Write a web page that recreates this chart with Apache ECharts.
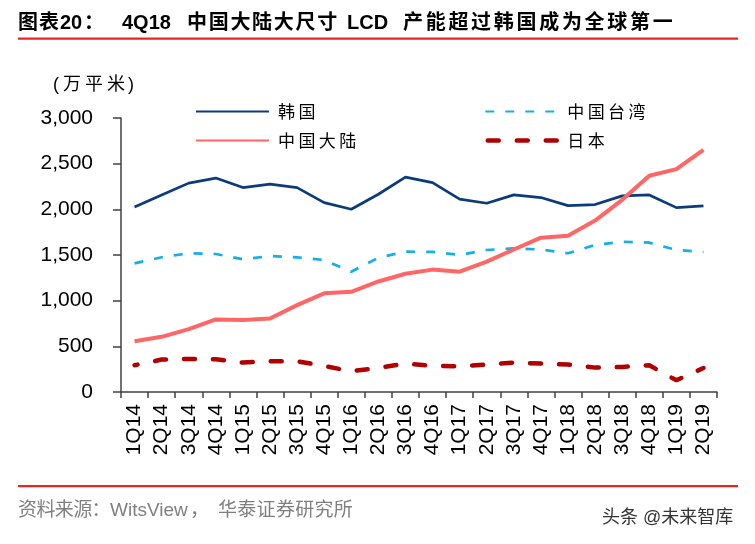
<!DOCTYPE html>
<html><head><meta charset="utf-8">
<script src="https://cdn.jsdelivr.net/npm/echarts@6/dist/echarts.min.js"></script>
<style>html,body{margin:0;padding:0;background:#fff}#c{width:755px;height:544px}</style>
</head><body><div id="c"></div>
<script>
var categories = ['1Q14','2Q14','3Q14','4Q14','1Q15','2Q15','3Q15','4Q15','1Q16','2Q16','3Q16','4Q16','1Q17','2Q17','3Q17','4Q17','1Q18','2Q18','3Q18','4Q18','1Q19','2Q19'];
var korea    = [2025,2158,2287,2342,2238,2276,2238,2074,2001,2165,2352,2293,2111,2067,2158,2129,2041,2052,2147,2158,2019,2037];
var taiwan   = [1409,1475,1519,1511,1453,1489,1475,1445,1317,1470,1536,1535,1500,1555,1573,1560,1519,1610,1646,1635,1555,1533];
var mainland = [556,604,688,794,787,805,951,1080,1097,1210,1295,1340,1317,1427,1560,1690,1710,1877,2104,2367,2440,2652];
var japan    = [293,355,362,359,322,337,337,285,227,265,311,285,282,300,322,311,300,267,274,293,128,263];
var yTicks = [0,500,1000,1500,2000,2500,3000];

var FONT = '"Liberation Sans", "Noto Sans CJK SC", sans-serif';
function spaced(str, x, y, pitch, font, fill) {
  return str.split('').map(function(ch, i){
    return {type:'text', x: x + i*pitch, y: y, style:{text: ch, font: font, fill: fill, verticalAlign:'middle', align:'left'}};
  });
}
function txt(str, x, y, font, fill) {
  return {type:'text', x:x, y:y, style:{text:str, font:font, fill:fill, verticalAlign:'middle', align:'left'}};
}
function legendFmt(name){ return name.split('').join('\u2009'); }

var tFont = 'bold 20px ' + FONT;
var sFont = '19px ' + FONT;
var graphics = [].concat(
  spaced('图表', 18, 23, 21, tFont, '#000'),
  [txt('20', 60, 23, tFont, '#000'), txt('：', 84, 23, tFont, '#000'), txt('4Q18', 122, 23, tFont, '#000')],
  spaced('中国大陆大尺寸', 187, 23, 21.7, tFont, '#000'),
  [txt('LCD', 347, 23, tFont, '#000')],
  spaced('产能超过韩国成为全球第一', 403, 23, 22.7, tFont, '#000'),
  [{type:'rect', shape:{x:18, y:37.5, width:720, height:2.2}, style:{fill:'#E3281E'}}],
  [txt('(', 53, 85, '18px ' + FONT, '#000')],
  spaced('万平米', 63, 85, 22, '18px ' + FONT, '#000'),
  [txt(')', 128, 85, '18px ' + FONT, '#000')],
  [{type:'rect', shape:{x:18, y:485, width:720, height:2.2}, style:{fill:'#E3281E'}}],
  spaced('资料来源：', 18, 511, 18.4, sFont, '#7F7F7F'),
  [txt('WitsView', 110, 511, sFont, '#7F7F7F'), txt('，', 190, 511, sFont, '#7F7F7F')],
  spaced('华泰证券研究所', 218, 511, 19.3, sFont, '#7F7F7F'),
  [txt('头条 @未来智库', 602, 518, '18px ' + FONT, '#333')]
);

var chart = echarts.init(document.getElementById('c'));
var legendText = {fontFamily:'"Noto Sans CJK SC", sans-serif', fontSize:17, color:'#000', padding:[0,0,0,4]};
chart.setOption({
  animation:false,
  backgroundColor:'#fff',
  grid:{left:121,right:38,top:118,bottom:152,containLabel:false},
  legend:[
    {left:195,top:103,padding:0,orient:'vertical',itemWidth:73,itemHeight:20,itemGap:12,
     itemStyle:{opacity:0},textStyle:legendText,formatter:legendFmt,data:['韩国','中国大陆']},
    {left:483,top:103,padding:0,orient:'vertical',itemWidth:73,itemHeight:20,itemGap:12,
     itemStyle:{opacity:0},textStyle:legendText,formatter:legendFmt,
     data:['中国台湾',{name:'日本',lineStyle:{color:'#B00000',width:4.5,type:[11,18],cap:'round',dashOffset:-2.5}}]}
  ],
  xAxis:{type:'category',data:categories,boundaryGap:true,
    axisLine:{lineStyle:{color:'#404040',width:1.5}},
    axisTick:{show:true,alignWithLabel:false,length:6,lineStyle:{color:'#404040',width:1.5}},
    axisLabel:{rotate:90,interval:0,fontFamily:'"Liberation Sans", Arial, sans-serif',fontSize:21,color:'#000',margin:12},
    splitLine:{show:false}},
  yAxis:{type:'value',min:0,max:3000,interval:500,
    axisLine:{show:true,lineStyle:{color:'#404040',width:1.5}},
    axisTick:{show:true,length:8,lineStyle:{color:'#404040',width:1.5}},
    axisLabel:{fontFamily:'"Liberation Sans", Arial, sans-serif',fontSize:21,color:'#000',margin:28,
      formatter:function(v){return v.toLocaleString('en-US');}},
    splitLine:{show:false}},
  series:[
    {name:'韩国',type:'line',data:korea,symbol:'none',color:'#0C3B7C',lineStyle:{width:2.7,color:'#0C3B7C'}},
    {name:'中国台湾',type:'line',data:taiwan,symbol:'none',color:'#14AEEB',lineStyle:{width:2.7,color:'#14AEEB',type:[9,11]}},
    {name:'中国大陆',type:'line',data:mainland,symbol:'none',color:'#FF6666',lineStyle:{width:4,color:'#FF6666'}},
    {name:'日本',type:'line',data:japan,symbol:'none',color:'#B00000',lineStyle:{width:4.5,color:'#B00000',type:[11,18],cap:'round',dashOffset:8}}
  ],
  graphic: graphics
});
</script></body></html>
